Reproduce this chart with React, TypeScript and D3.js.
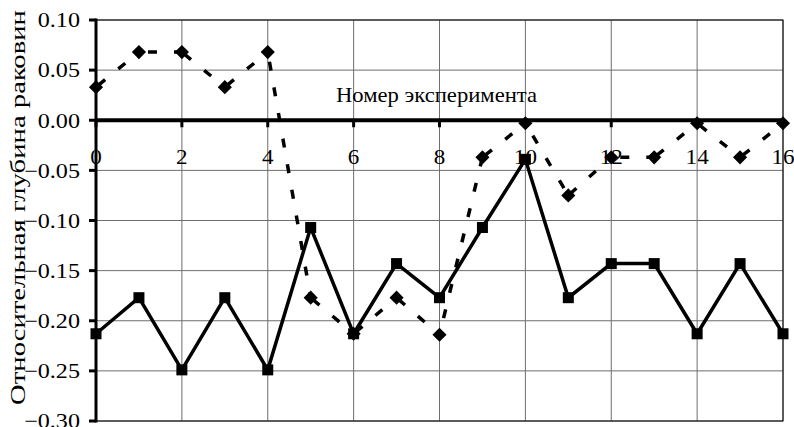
import React from "react";
import * as d3 from "d3";

const experiments = [0, 1, 2, 3, 4, 5, 6, 7, 8, 9, 10, 11, 12, 13, 14, 15, 16];
const dashedSeries = [0.033, 0.068, 0.068, 0.033, 0.068, -0.177, -0.213, -0.177, -0.214, -0.037, -0.003, -0.075, -0.037, -0.037, -0.003, -0.037, -0.003];
const solidSeries = [-0.213, -0.177, -0.249, -0.177, -0.249, -0.107, -0.213, -0.143, -0.177, -0.107, -0.039, -0.177, -0.143, -0.143, -0.213, -0.143, -0.213];
const xTicks = [0, 2, 4, 6, 8, 10, 12, 14, 16];
const yTicks = [0.1, 0.05, 0, -0.05, -0.1, -0.15, -0.2, -0.25, -0.3];
const xTitle = "Номер эксперимента";
const yTitle = "Относительная глубина раковин";

const W = 794;
const H = 427;
const FONT = "'Liberation Serif', 'Times New Roman', Times, serif";

export default function App() {
  const x = d3.scaleLinear().domain([0, 16]).range([96, 783]);
  const y = d3.scaleLinear().domain([-0.3, 0.1]).range([421, 20]);
  const fmt = d3.format(".2f");
  const line = d3
    .line<[number, number]>()
    .x((d) => x(d[0]))
    .y((d) => y(d[1]));

  const segs = (vals: number[]) =>
    experiments.slice(0, -1).map((e, i) => {
      const a: [number, number] = [e, vals[i]];
      const b: [number, number] = [experiments[i + 1], vals[i + 1]];
      const L = Math.hypot(x(b[0]) - x(a[0]), y(b[1]) - y(a[1]));
      const period = 26;
      let off = 4.5 - L / 2;
      off = ((off % period) + period) % period;
      return { d: line([a, b]) as string, off };
    });

  const dashedSegs = segs(dashedSeries);
  const [x0, x1] = x.range();
  const [yb, yt] = y.range();
  const ts = { fontFamily: FONT, fill: "#000" } as React.CSSProperties;

  return (
    <svg
      width={W}
      height={H}
      style={{ position: "absolute", left: 0, top: 0, background: "#fff" }}
    >
      <rect x={0} y={0} width={W} height={H} fill="#fff" />
      {/* grid */}
      {xTicks.map((t) => (
        <line key={"gx" + t} x1={x(t)} x2={x(t)} y1={yt} y2={yb} stroke="#6e6e6e" strokeWidth={1} />
      ))}
      {yTicks.map((t) => (
        <line key={"gy" + t} x1={x0} x2={x1} y1={y(t)} y2={y(t)} stroke="#6e6e6e" strokeWidth={1} />
      ))}
      <rect x={x0} y={yt} width={x1 - x0} height={yb - yt} fill="none" stroke="#000" strokeWidth={1} />
      {/* y axis */}
      <line x1={x0} x2={x0} y1={yt - 1.5} y2={yb + 1.5} stroke="#000" strokeWidth={3} />
      {yTicks.map((t) => (
        <line key={"ty" + t} x1={x0 - 7} x2={x0} y1={y(t)} y2={y(t)} stroke="#000" strokeWidth={3} />
      ))}
      {yTicks.map((t) => (
        <text
          key={"ly" + t}
          transform={`translate(80, ${y(t)}) scale(1.15, 1)`}
          dy="0.35em"
          textAnchor="end"
          fontSize={21}
          style={ts}
        >
          {fmt(t)}
        </text>
      ))}
      {/* x axis at zero */}
      <line x1={x0} x2={x1} y1={y(0)} y2={y(0)} stroke="#000" strokeWidth={4} />
      {xTicks.map((t) => (
        <line key={"tx" + t} x1={x(t)} x2={x(t)} y1={y(0)} y2={y(0) + 7} stroke="#000" strokeWidth={3} />
      ))}
      {xTicks.map((t) => (
        <text
          key={"lx" + t}
          transform={`translate(${x(t)}, 164) scale(1.1, 1)`}
          textAnchor="middle"
          fontSize={21}
          style={ts}
        >
          {t}
        </text>
      ))}
      <text
        x={336}
        y={102}
        fontSize={21}
        textLength={201}
        lengthAdjust="spacingAndGlyphs"
        style={ts}
      >
        {xTitle}
      </text>
      <text
        transform={`translate(25, 405) rotate(-90)`}
        fontSize={21}
        textLength={395}
        lengthAdjust="spacingAndGlyphs"
        style={ts}
      >
        {yTitle}
      </text>
      {/* dashed series */}
      {dashedSegs.map((s, i) => (
        <path
          key={"ds" + i}
          d={s.d}
          fill="none"
          stroke="#000"
          strokeWidth={3.5}
          strokeDasharray="9 17"
          strokeDashoffset={-s.off}
        />
      ))}
      {experiments.map((e, i) => (
        <rect
          key={"dm" + i}
          x={-5}
          y={-5}
          width={10}
          height={10}
          fill="#000"
          transform={`translate(${x(e)}, ${y(dashedSeries[i])}) rotate(45)`}
        />
      ))}
      {/* solid series */}
      <path
        d={line(experiments.map((e, i) => [e, solidSeries[i]] as [number, number])) as string}
        fill="none"
        stroke="#000"
        strokeWidth={3.5}
        strokeLinejoin="miter"
      />
      {experiments.map((e, i) => (
        <rect key={"sq" + i} x={x(e) - 5.5} y={y(solidSeries[i]) - 5.5} width={11} height={11} fill="#000" />
      ))}
    </svg>
  );
}
